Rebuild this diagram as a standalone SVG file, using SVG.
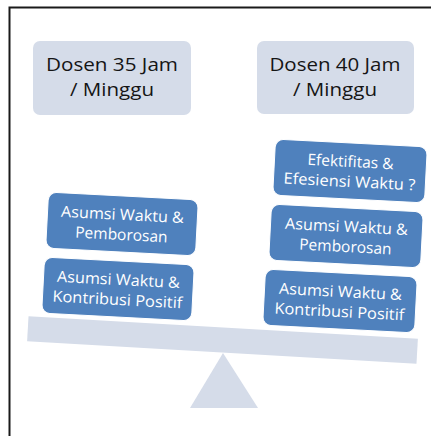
<svg xmlns="http://www.w3.org/2000/svg" width="431" height="436" viewBox="0 0 431 436">
<style>
.frame{fill:none;stroke:#1a1a1a;stroke-width:2}
.light{fill:#d5dce9}
.top{fill:#d5dce9}
.ttop{font-family:"Open Sans","Liberation Sans",sans-serif;font-size:18px;fill:#151515;text-anchor:middle}
.blue{fill:#4f81bd;stroke:#ffffff;stroke-width:1}
.tb{font-family:"Open Sans","Liberation Sans",sans-serif;font-size:15.5px;fill:#ffffff;text-anchor:middle}
</style>
<rect width="431" height="436" fill="#ffffff"/>
<path class="frame" d="M9.5,436 V7.5 H431"/>
<g id="scale">
<rect class="light" x="27.5" y="327.5" width="390" height="25" transform="rotate(3.3 222.5 340)"/>
<polygon class="light" points="223,353 190,408 258,408"/>
</g>
<g id="dosen35">
<rect class="top" x="33" y="41" width="158" height="74" rx="7"/>
<text class="ttop" x="112" y="71" textLength="132" lengthAdjust="spacingAndGlyphs">Dosen 35 Jam</text>
<text class="ttop" x="112" y="96" textLength="84" lengthAdjust="spacingAndGlyphs">/ Minggu</text>
</g>
<g id="dosen40">
<rect class="top" x="257" y="41" width="157" height="73" rx="7"/>
<text class="ttop" x="335" y="71" textLength="131" lengthAdjust="spacingAndGlyphs">Dosen 40 Jam</text>
<text class="ttop" x="335" y="96" textLength="84" lengthAdjust="spacingAndGlyphs">/ Minggu</text>
</g>
<g id="l1" transform="translate(122 224) rotate(3)">
<rect class="blue" x="-75" y="-28" width="150" height="56" rx="8"/>
<text class="tb" x="0" y="-4" textLength="123" lengthAdjust="spacingAndGlyphs">Asumsi Waktu &amp;</text>
<text class="tb" x="0" y="16">Pemborosan</text>
</g>
<g id="l2" transform="translate(118 289) rotate(3)">
<rect class="blue" x="-75" y="-28" width="150" height="56" rx="8"/>
<text class="tb" x="0" y="-4" textLength="123" lengthAdjust="spacingAndGlyphs">Asumsi Waktu &amp;</text>
<text class="tb" x="0" y="16" textLength="130" lengthAdjust="spacingAndGlyphs">Kontribusi Positif</text>
</g>
<g id="r1" transform="translate(350 171) rotate(3)">
<rect class="blue" x="-76" y="-28" width="152" height="56" rx="8"/>
<text class="tb" x="0" y="-4">Efektifitas &amp;</text>
<text class="tb" x="0" y="16" textLength="132" lengthAdjust="spacingAndGlyphs">Efesiensi Waktu ?</text>
</g>
<g id="r2" transform="translate(346 236) rotate(3)">
<rect class="blue" x="-76" y="-28" width="152" height="56" rx="8"/>
<text class="tb" x="0" y="-4" textLength="123" lengthAdjust="spacingAndGlyphs">Asumsi Waktu &amp;</text>
<text class="tb" x="0" y="16">Pemborosan</text>
</g>
<g id="r3" transform="translate(340 301) rotate(3)">
<rect class="blue" x="-76" y="-28" width="152" height="56" rx="8"/>
<text class="tb" x="0" y="-4" textLength="123" lengthAdjust="spacingAndGlyphs">Asumsi Waktu &amp;</text>
<text class="tb" x="0" y="16" textLength="130" lengthAdjust="spacingAndGlyphs">Kontribusi Positif</text>
</g>
</svg>
